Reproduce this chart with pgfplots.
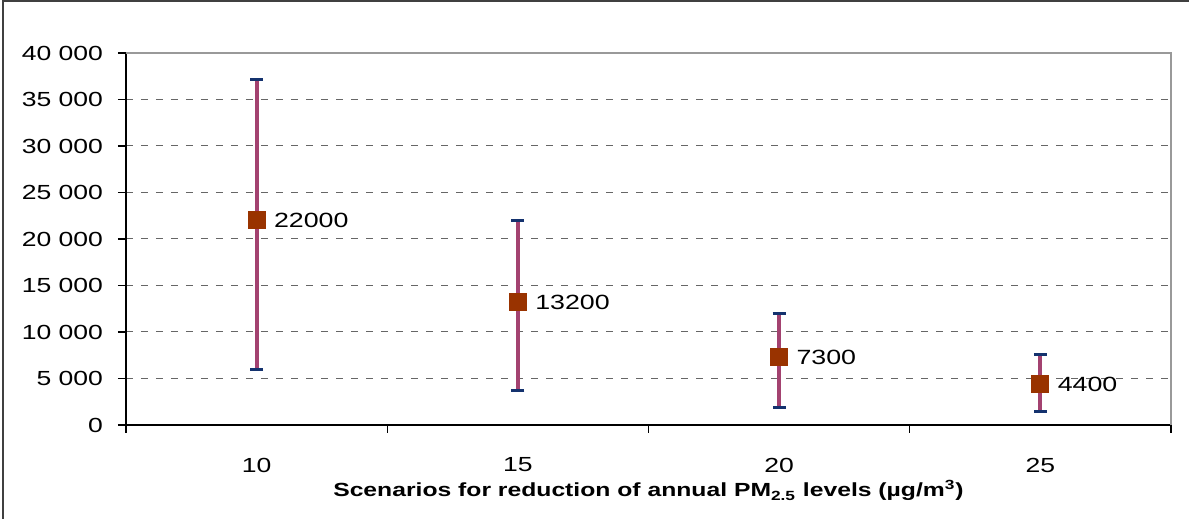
\documentclass[border=0pt]{standalone}
\usepackage{pgfplots}
\pgfplotsset{compat=1.18}
\usepackage{fontspec}
\setmainfont{Liberation Sans}[FakeStretch=1.3]
\definecolor{barc}{RGB}{163,66,112}
\definecolor{capc}{RGB}{20,50,110}
\definecolor{mkc}{RGB}{153,51,0}
\pgfplotstableread{
x y ep em label
1 22000 15100 16000 22000
2 13200 8800 9500 13200
3 7300 4700 5400 7300
4 4400 3200 3000 4400
}\datatab
\begin{document}
\begin{tikzpicture}
\useasboundingbox (0,0) rectangle (594.5pt,259.5pt);
\draw[line width=1pt, black!75] (1.5pt,0pt) -- (1.5pt,258.9pt) -- (594.5pt,258.9pt);
\begin{axis}[
  at={(63pt,47pt)}, anchor=south west, scale only axis,
  width=522.5pt, height=186pt,
  xmin=0.5, xmax=4.5, ymin=0, ymax=40000,
  scaled y ticks=false,
  axis x line*=bottom, axis y line*=left,
  axis line style={black, line width=0.6pt},
  xtick={1,2,3,4}, xticklabels={10,15,20,25},
  minor xtick={0.5,1.5,2.5,3.5,4.5},
  major x tick style={draw=none},
  tick align=outside,
  major tick length=4pt, minor tick length=4pt,
  tick style={black, line width=0.6pt},
  ytick={0,5000,10000,15000,20000,25000,30000,35000,40000},
  yticklabels={0,5 000,10 000,15 000,20 000,25 000,30 000,35 000,40 000},
  ymajorgrids,
  grid style={black!60, line width=0.5pt, dash pattern=on 3.5pt off 4pt},
  ticklabel style={font=\fontsize{10.2}{12}\selectfont},
  xticklabel style={anchor=center, yshift=-16pt},
  yticklabel style={anchor=east, xshift=-4pt},
  xlabel={Scenarios for reduction of annual PM\textsubscript{2.5} levels (µg/m\textsuperscript{3})},
  xlabel style={at={(rel axis cs:0.5,0)}, anchor=base, yshift=-36pt,
    font=\fontsize{9.5}{11}\selectfont\bfseries},
  clip=false,
  after end axis/.code={
    \draw[black!40, line width=0.8pt] (rel axis cs:0,1) -- (rel axis cs:1,1) -- (rel axis cs:1,0);
  },
]
\addplot[
  only marks, mark=square*, mark size=4.25pt,
  mark options={fill=mkc, draw=mkc},
  error bars/.cd, y dir=both, y explicit,
  error bar style={barc, line width=2pt},
  error mark options={rotate=90, capc, line width=1.5pt, mark size=3.25pt},
] table[x=x, y=y, y error plus=ep, y error minus=em] {\datatab};
\addplot[
  only marks, mark=square*, mark size=4.25pt,
  mark options={fill=mkc, draw=mkc},
  point meta=explicit symbolic,
  nodes near coords,
  nodes near coords style={anchor=west, xshift=8.5pt, inner sep=0pt,
    font=\fontsize{10.3}{12}\selectfont, text=black},
] table[x=x, y=y, meta=label] {\datatab};
\end{axis}
\end{tikzpicture}
\end{document}
